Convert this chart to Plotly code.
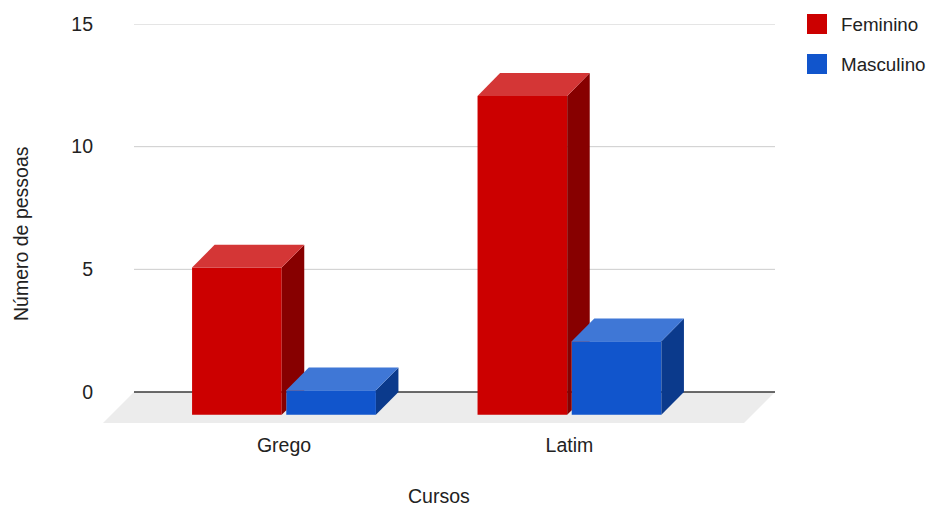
import plotly.graph_objects as go

# ---------------- data ----------------
categories = ["Grego", "Latim"]
series_names = ["Feminino", "Masculino"]
feminino = [6, 13]
masculino = [1, 3]
y_ticks = [0, 5, 10, 15]
x_title = "Cursos"
y_title = "Número de pessoas"

# ---------------- style ----------------
FONT = "Liberation Sans, Arial, sans-serif"
FS = 19.5
LEG_FS = 18.8
TXT = "#222222"
front_colors = ["#cc0000", "#1155cc"]
top_colors = ["#d43636", "#3f77d6"]
side_colors = ["#870000", "#0b3a8c"]
floor_color = "#ececec"
grid_color = "#cccccc"
zero_color = "#3a3a3a"

depth_y = 0.93        # 3D depth in y data units
depth_x = 0.079       # 3D depth in x data units
bar_w = 0.314
offsets = [-0.322, 0.008]
x_range = [-0.634, 1.720]
y_range = [-1.264, 15]
floor_dy = -y_range[0]
floor_dx = 0.1086
floor_x0 = x_range[0]
floor_x1 = x_range[1] - floor_dx

x_pos = list(range(len(categories)))
series = [feminino, masculino]

fig = go.Figure()

# front faces: real bar traces (base pushed forward by the depth)
for name, vals, off, col in zip(series_names, series, offsets, front_colors):
    fig.add_trace(go.Bar(
        x=x_pos, y=vals, base=[-depth_y] * len(vals), width=bar_w, offset=off,
        name=name, marker=dict(color=col, line=dict(width=0)),
        customdata=categories, hovertemplate="%{customdata}: " + "%{y}<extra>" + name + "</extra>",
        showlegend=False,
    ))


def poly(xs, ys, color):
    fig.add_trace(go.Scatter(
        x=xs + [xs[0]], y=ys + [ys[0]], mode="lines", fill="toself",
        fillcolor=color, line=dict(width=0, color=color),
        hoverinfo="skip", showlegend=False,
    ))


d, dx = depth_y, depth_x
for i, xc in enumerate(x_pos):
    for s, vals in enumerate(series):
        v = vals[i]
        xl = xc + offsets[s]
        xr = xl + bar_w
        # side face (clipped where the next bar's front face covers it)
        if s + 1 < len(series) and series[s + 1][i] > 0:
            vn = series[s + 1][i]
            xnl = xc + offsets[s + 1]
            hn = vn - d
            xs = [xr, xnl, xnl]
            ys = [-d, -d + d * (xnl - xr) / dx, hn]
            if vn / d >= 1:
                xs += [xr + dx]
                ys += [hn]
            else:
                xs += [xr + dx * vn / d, xr + dx]
                ys += [hn, 0]
            xs += [xr + dx, xr]
            ys += [v, v - d]
        else:
            xs = [xr, xr + dx, xr + dx, xr]
            ys = [-d, 0, v, v - d]
        poly(xs, ys, side_colors[s])
        # top face
        poly([xl, xr, xr + dx, xl + dx], [v - d, v - d, v, v], top_colors[s])

shapes = []
# floor
shapes.append(dict(
    type="path", xref="x", yref="y", layer="below",
    path=(f"M {floor_x0},{-floor_dy} L {floor_x1},{-floor_dy} "
          f"L {floor_x1 + floor_dx},0 L {floor_x0 + floor_dx},0 Z"),
    fillcolor=floor_color, line=dict(width=0),
))
# gridlines on the back wall
for t in y_ticks:
    shapes.append(dict(
        type="line", xref="x", yref="y", layer="below",
        x0=floor_x0 + floor_dx, x1=floor_x1 + floor_dx, y0=t, y1=t,
        line=dict(color=zero_color if t == 0 else grid_color, width=1.4 if t == 0 else 1),
    ))

# legend (manual, square swatches)
W, H = 928, 507
ml, mr, mt, mb = 103, 153, 24, 84
pw, ph = W - ml - mr, H - mt - mb


def px(xp):
    return (xp - ml) / pw


def py(yp):
    return (H - mb - yp) / ph


annotations = []
for k, (name, col) in enumerate(zip(series_names, front_colors)):
    cy = 24 + 40 * k
    shapes.append(dict(
        type="rect", xref="paper", yref="paper",
        x0=px(807), x1=px(827), y0=py(cy + 10), y1=py(cy - 10),
        fillcolor=col, line=dict(width=0),
    ))
    annotations.append(dict(
        xref="paper", yref="paper", x=px(839), y=py(cy), xanchor="left", yanchor="middle",
        text=name, showarrow=False, font=dict(family=FONT, size=LEG_FS, color=TXT),
    ))

annotations.append(dict(
    xref="paper", yref="paper", x=px(21), y=py(234), xanchor="center", yanchor="middle",
    text=y_title, textangle=-90, showarrow=False, font=dict(family=FONT, size=FS, color=TXT),
))
annotations.append(dict(
    xref="paper", yref="paper", x=px(439), y=py(496), xanchor="center", yanchor="middle",
    text=x_title, showarrow=False, font=dict(family=FONT, size=FS, color=TXT),
))

fig.update_layout(
    width=W, height=H,
    margin=dict(l=ml, r=mr, t=mt, b=mb),
    paper_bgcolor="white", plot_bgcolor="white",
    barmode="overlay",
    showlegend=False,
    font=dict(family=FONT, size=FS, color=TXT),
    shapes=shapes,
    annotations=annotations,
    xaxis=dict(range=x_range, tickvals=x_pos, ticktext=categories, showgrid=False,
               zeroline=False, showline=False, ticks="", ticklabelstandoff=8,
               tickfont=dict(family=FONT, size=FS, color=TXT), fixedrange=True),
    yaxis=dict(range=y_range, tickvals=y_ticks, showgrid=False, zeroline=False,
               showline=False, ticks="", ticklabelstandoff=9,
               tickfont=dict(family=FONT, size=FS, color=TXT), fixedrange=True),
)

fig.write_html("out.html")
